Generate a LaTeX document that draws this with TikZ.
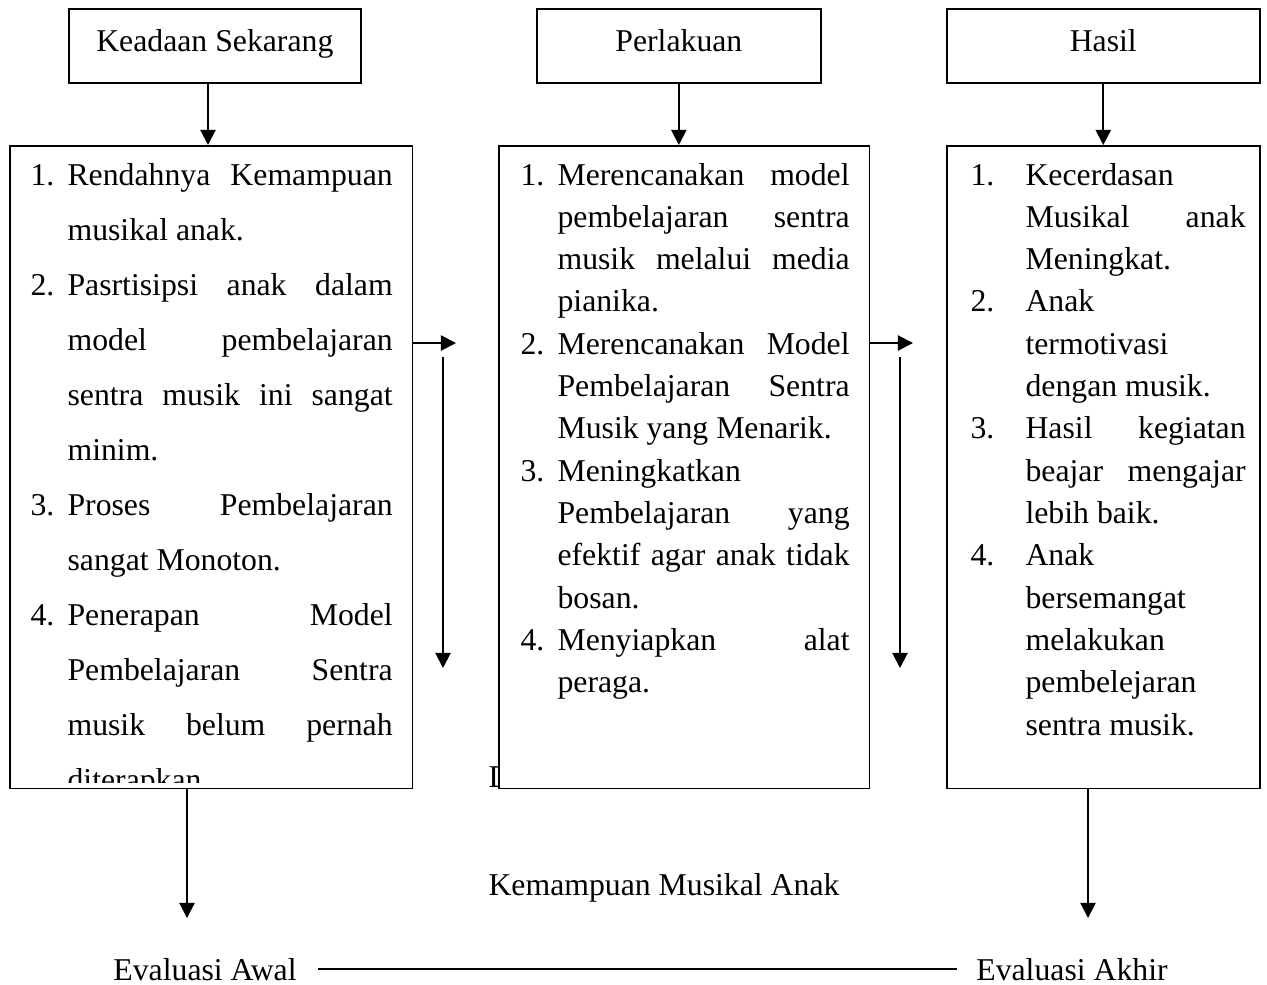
\documentclass[tikz,border=0pt]{standalone}
\usepackage{fontspec}
\setmainfont{Liberation Serif}
\usetikzlibrary{arrows.meta,positioning}
\newlength\colw
\newcommand\jl[1]{\makebox[\colw][s]{#1}}

\begin{document}
\begin{tikzpicture}[x=0.378pt,y=-0.378pt,>={Triangle[length=5.7pt,width=5.7pt]},font=\fontsize{12pt}{14.5pt}\selectfont,
head/.style={draw,line width=0.6pt,minimum height=28pt,text height=8.5pt,text depth=4.5pt,inner sep=0pt},
listbox/.style={draw,line width=0.6pt,fill=white,minimum height=243pt,inner sep=0pt},
items/.style={inner sep=0pt,anchor=base west},
arr/.style={->,line width=0.75pt}]
\useasboundingbox (0,0) rectangle (1267,984);
\node[head,minimum width=110.4pt,anchor=north west] (h1) at (68,8) {Keadaan Sekarang};
\node[head,minimum width=107.4pt,anchor=north west] (h2) at (536,8) {Perlakuan};
\node[head,minimum width=118.3pt,anchor=north west] (h3) at (946,8) {Hasil};
\node[items] (dlabel) at (488,787) {D};
\node[listbox,minimum width=152.3pt,anchor=north west] (l1) at (9,145) {};
\node[listbox,minimum width=140.2pt,anchor=north west] (l2) at (498,145) {};
\node[listbox,minimum width=118.3pt,below=23.2pt of h3] (l3) {};
\begin{scope}
\clip (l1.north west) rectangle ([yshift=2.6pt]l1.south east);
\node[items] (t1) at (30,185) {\setlength\colw{122.9pt}\renewcommand\arraystretch{1.434}%
\begin{tabular}[t]{@{}p{14pt}@{}l@{}}
1. & \jl{Rendahnya Kemampuan}\\
   & musikal anak.\\
2. & \jl{Pasrtisipsi anak dalam}\\
   & \jl{model pembelajaran}\\
   & \jl{sentra musik ini sangat}\\
   & minim.\\
3. & \jl{Proses Pembelajaran}\\
   & sangat Monoton.\\
4. & \jl{Penerapan Model}\\
   & \jl{Pembelajaran Sentra}\\
   & \jl{musik belum pernah}\\
   & diterapkan.
\end{tabular}};
\end{scope}
\node[items] (t2) at (520,185) {\setlength\colw{110.4pt}\renewcommand\arraystretch{1.103}%
\begin{tabular}[t]{@{}p{14pt}@{}l@{}}
1. & \jl{Merencanakan model}\\
   & \jl{pembelajaran sentra}\\
   & \jl{musik melalui media}\\
   & pianika.\\
2. & \jl{Merencanakan Model}\\
   & \jl{Pembelajaran Sentra}\\
   & Musik yang Menarik.\\
3. & Meningkatkan\\
   & \jl{Pembelajaran yang}\\
   & \jl{efektif agar anak tidak}\\
   & bosan.\\
4. & \jl{Menyiapkan alat}\\
   & peraga.
\end{tabular}};
\node[items] (t3) at (970,185) {\setlength\colw{83.2pt}\renewcommand\arraystretch{1.103}%
\begin{tabular}[t]{@{}p{20.8pt}@{}l@{}}
1. & Kecerdasan\\
   & \jl{Musikal anak}\\
   & Meningkat.\\
2. & Anak\\
   & termotivasi\\
   & dengan musik.\\
3. & \jl{Hasil kegiatan}\\
   & \jl{beajar mengajar}\\
   & lebih baik.\\
4. & Anak\\
   & bersemangat\\
   & melakukan\\
   & pembelejaran\\
   & sentra musik.
\end{tabular}};
\node[anchor=base] (kma) at (664,895) {Kemampuan Musikal Anak};
\node[anchor=base] (ev1) at (205,980) {Evaluasi Awal};
\node[anchor=base] (ev2) at (1072,980) {Evaluasi Akhir};
\coordinate (a1) at (208,82);
\coordinate (r1) at (456,343); \coordinate (r2) at (913,343);
\coordinate (d1a) at (443,357); \coordinate (d1b) at (443,668);
\coordinate (d2a) at (900,357); \coordinate (d2b) at (900,668);
\coordinate (e1) at (187,918); \coordinate (e2) at (1088,918);
\draw[arr] (a1) -- (a1 |- l1.north);\draw[arr] (h2.south) -- (h2.south |- l2.north);\draw[arr] (h3) -- (l3);
\draw[arr] (l1.east |- r1) -- (r1);\draw[arr] (l2.east |- r2) -- (r2);
\draw[arr] (d1a) -- (d1b);\draw[arr] (d2a) -- (d2b);
\draw[arr] (l1.south -| e1) -- (e1);\draw[arr] (l3.south -| e2) -- (e2);
\draw[line width=0.75pt] ([xshift=4.7pt]ev1.east) -- ([xshift=-3.6pt]ev2.west);
\end{tikzpicture}
\end{document}
